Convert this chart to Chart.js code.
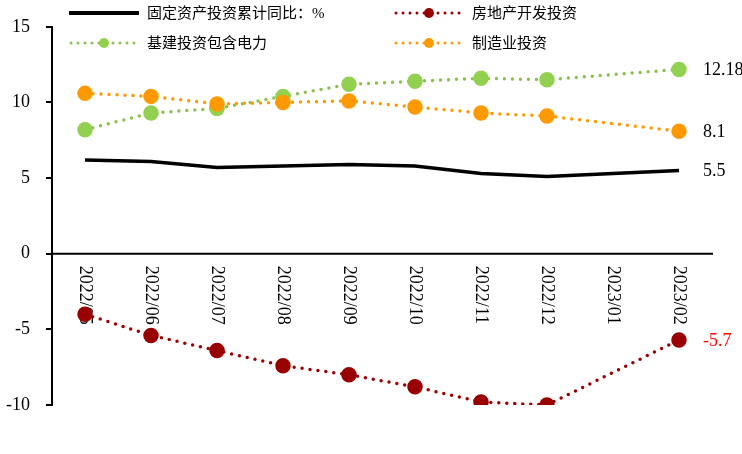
<!DOCTYPE html>
<html>
<head>
<meta charset="utf-8">
<script src="https://cdn.jsdelivr.net/npm/chart.js@4"></script>
<style>
  html, body { margin: 0; padding: 0; background: #fff; }
  #wrap { width: 742px; height: 454px; position: relative; }
</style>
</head>
<body>
<div id="wrap"><canvas id="touziChart"></canvas></div>
<script>
// categories and series
const months = ["2022/05", "2022/06", "2022/07", "2022/08", "2022/09", "2022/10", "2022/11", "2022/12", "2023/01", "2023/02"];
const guding = [6.2, 6.1, 5.7, 5.8, 5.9, 5.8, 5.3, 5.1, null, 5.5];
const fangdichan = [-4.0, -5.4, -6.4, -7.4, -8.0, -8.8, -9.8, -10.0, null, -5.7];
const jijian = [8.2, 9.3, 9.6, 10.4, 11.2, 11.4, 11.6, 11.5, null, 12.18];
const zhizao = [10.6, 10.4, 9.9, 10.0, 10.1, 9.7, 9.3, 9.1, null, 8.1];
const yTicks = [-10, -5, 0, 5, 10, 15];

const seriesNames = ["固定资产投资累计同比：%", "房地产开发投资", "基建投资包含电力", "制造业投资"];
const lineColors = ["#000000", "#990000", "#8CC152", "#FF9900"];
const pointColors = ["#000000", "#990000", "#92D050", "#FF9900"];
const endLabelColors = ["#000000", "#FF0000", "#000000", "#000000"];

const serif = "'Liberation Serif', 'Times New Roman', 'Noto Sans CJK SC', serif";

// x axis through zero, rotated month labels, legend and end labels
const extras = {
  id: "extras",
  beforeDatasetsDraw(chart) {
    const ctx = chart.ctx;
    const xs = chart.scales.x, ys = chart.scales.y;
    const area = chart.chartArea;
    const y0 = ys.getPixelForValue(0);
    ctx.save();
    ctx.strokeStyle = "#000";
    ctx.lineWidth = 2;
    ctx.beginPath();
    ctx.moveTo(area.left, y0);
    ctx.lineTo(area.right + 1, y0);
    ctx.stroke();

    ctx.fillStyle = "#000";
    ctx.font = "18px " + serif;
    ctx.textAlign = "left";
    ctx.textBaseline = "middle";
    months.forEach((m, i) => {
      const x = xs.getPixelForValue(i);
      ctx.save();
      ctx.translate(x, y0 + 12);
      ctx.rotate(Math.PI / 2);
      ctx.fillText(m, 0, 0);
      ctx.restore();
    });
    ctx.restore();
  },
  afterDraw(chart) {
    const ctx = chart.ctx;
    ctx.save();
    // end labels
    ctx.font = "18px " + serif;
    ctx.textAlign = "left";
    ctx.textBaseline = "middle";
    chart.data.datasets.forEach((ds, i) => {
      const meta = chart.getDatasetMeta(i);
      const last = meta.data[meta.data.length - 1];
      ctx.fillStyle = endLabelColors[i];
      ctx.fillText(String(ds.data[ds.data.length - 1]), last.x + 24, last.y + 1);
    });

    // legend
    const spots = [[69, 13], [394, 13], [69, 43], [394, 43]];
    seriesNames.forEach((name, i) => {
      const [lx, ly] = spots[i];
      ctx.save();
      if (i === 0) {
        ctx.strokeStyle = lineColors[0];
        ctx.lineWidth = 4;
        ctx.beginPath();
        ctx.moveTo(lx, ly);
        ctx.lineTo(lx + 70, ly);
        ctx.stroke();
      } else {
        ctx.strokeStyle = lineColors[i];
        ctx.lineWidth = 3;
        ctx.lineCap = "round";
        ctx.setLineDash([0, 7]);
        ctx.beginPath();
        ctx.moveTo(lx + 2, ly);
        ctx.lineTo(lx + 70, ly);
        ctx.stroke();
        ctx.setLineDash([]);
        ctx.fillStyle = pointColors[i];
        ctx.beginPath();
        ctx.arc(lx + 35, ly, 5, 0, Math.PI * 2);
        ctx.fill();
      }
      ctx.restore();
      ctx.fillStyle = "#000";
      ctx.font = "15px " + serif;
      ctx.textBaseline = "middle";
      ctx.fillText(name, lx + 78, ly + 1);
    });
    ctx.restore();
  }
};

function dotted(idx, values, order) {
  return {
    label: seriesNames[idx],
    data: values,
    borderColor: lineColors[idx],
    backgroundColor: pointColors[idx],
    pointBackgroundColor: pointColors[idx],
    pointBorderColor: pointColors[idx],
    pointRadius: 6,
    borderWidth: 3.5,
    borderDash: [0, 8],
    borderCapStyle: "round",
    borderJoinStyle: "round",
    spanGaps: true,
    tension: 0,
    order: order
  };
}

new Chart("touziChart", {
  type: "line",
  data: {
    labels: months,
    datasets: [
      {
        label: seriesNames[0],
        data: guding,
        borderColor: lineColors[0],
        borderWidth: 3.5,
        pointRadius: 0,
        spanGaps: true,
        tension: 0,
        order: 3
      },
      dotted(1, fangdichan, 2),
      dotted(2, jijian, 1),
      dotted(3, zhizao, 0)
    ]
  },
  options: {
    responsive: true,
    maintainAspectRatio: false,
    animation: false,
    layout: { padding: { left: 0, right: 30, top: 25, bottom: 49 } },
    plugins: {
      legend: { display: false },
      tooltip: { enabled: false }
    },
    scales: {
      x: {
        display: false,
        offset: true
      },
      y: {
        min: yTicks[0],
        max: yTicks[yTicks.length - 1],
        afterBuildTicks(scale) {
          scale.ticks = yTicks.map(v => ({ value: v }));
        },
        afterFit(scale) {
          scale.width = 52;
        },
        grid: { drawOnChartArea: false, drawTicks: true, tickLength: 6, color: "#000", lineWidth: 2 },
        border: { color: "#000", width: 2 },
        ticks: {
          color: "#000",
          padding: 16,
          font: { family: serif, size: 18 }
        }
      }
    }
  },
  plugins: [extras]
});
</script>
</body>
</html>
